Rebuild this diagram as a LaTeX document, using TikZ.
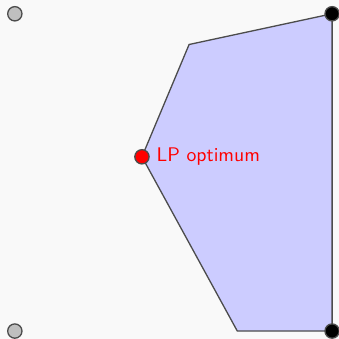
\documentclass[tikz,border=0pt]{standalone}
\usepackage{tikz}
\usetikzlibrary{positioning}

\begin{document}
\begin{tikzpicture}[thick, font=\sffamily,
    pt/.style={circle, draw=black!70, line width=0.7pt, minimum size=0.27cm, inner sep=0pt}]
            \fill[white!97.5!black] (0, 0) rectangle (6.4, 6.4);
            \useasboundingbox (0, 0) rectangle (6.4, 6.4);

            \coordinate (P1) at (3.57, 5.56);
            \coordinate (P2) at (6.27, 6.14);
            \coordinate (P3) at (6.27, 0.15);
            \coordinate (P4) at (4.48, 0.15);
            \coordinate (P5) at (2.68, 3.44);

            \draw[fill=blue!20, draw=black!70, line width=0.7pt] (P1) -- (P2) -- (P3) -- (P4) -- (P5) -- cycle;

            \node[pt, fill=black!25] (G1) at (0.28, 6.14) {};
            \node[pt, fill=black!25] (G2) at (0.28, 0.15) {};
            \node[pt, fill=black] (B1) at (P2) {};
            \node[pt, fill=black] (B2) at (P3) {};
            \node[pt, fill=red] (LP) at (P5) {};
            \node[right=0cm of LP, text=red, font=\sffamily\fontsize{10.6}{12}\selectfont] (lab) {LP optimum};
        \end{tikzpicture}
\end{document}
